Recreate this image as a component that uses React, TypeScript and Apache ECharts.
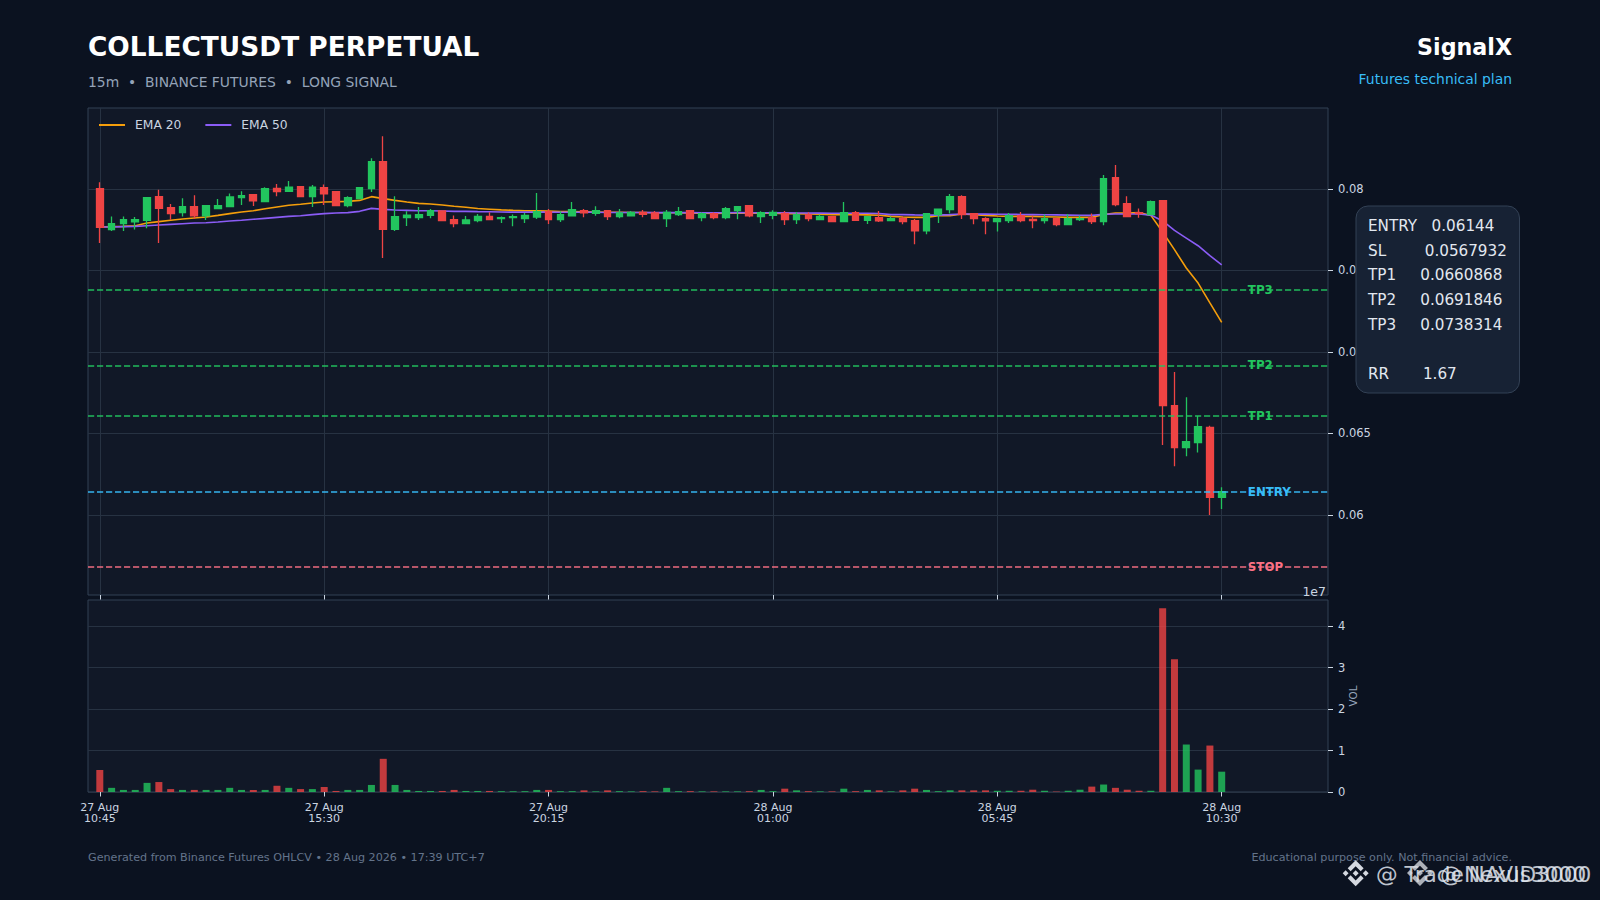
import React, { useEffect, useRef } from "react";
import * as echarts from "echarts";

// Time axis: one candle every 15 minutes, labels on every 19th candle
const tickIndexes = [0, 19, 38, 57, 76, 95];
const tickLabels = ["27 Aug\n10:45", "27 Aug\n15:30", "27 Aug\n20:15", "28 Aug\n01:00", "28 Aug\n05:45", "28 Aug\n10:30"];
const priceTicks = [0.06, 0.065, 0.07, 0.075, 0.08];
const volumeTicks = [0, 1, 2, 3, 4];

// [open, close, low, high]
const candles: number[][] = [
  [0.08002, 0.07765, 0.07669, 0.08041], [0.07751, 0.07787, 0.07742, 0.07832], [0.07787, 0.07812, 0.07742, 0.07832], [0.07798, 0.07812, 0.07751, 0.07828],
  [0.07808, 0.07947, 0.07759, 0.07949], [0.07953, 0.07881, 0.07669, 0.07996], [0.07885, 0.07849, 0.07812, 0.07908], [0.07855, 0.07892, 0.07832, 0.07943],
  [0.07892, 0.07836, 0.07816, 0.07961], [0.07836, 0.07898, 0.0781, 0.07898], [0.07879, 0.07898, 0.07877, 0.07939], [0.07892, 0.07951, 0.0789, 0.07973],
  [0.07947, 0.07959, 0.07902, 0.07986], [0.07965, 0.07928, 0.07896, 0.07965], [0.07922, 0.08002, 0.0792, 0.0801], [0.08004, 0.07984, 0.07955, 0.08031],
  [0.07986, 0.08012, 0.07984, 0.08049], [0.08014, 0.07953, 0.07951, 0.08016], [0.07953, 0.08012, 0.0789, 0.08025], [0.08008, 0.07971, 0.07902, 0.08027],
  [0.07984, 0.07898, 0.07896, 0.07984], [0.07898, 0.07947, 0.07888, 0.07955], [0.07941, 0.08008, 0.07939, 0.08012], [0.08002, 0.08168, 0.07982, 0.08188],
  [0.08168, 0.07753, 0.07577, 0.08323], [0.07753, 0.0783, 0.07742, 0.07955], [0.07824, 0.0784, 0.07773, 0.07863], [0.07824, 0.07843, 0.0781, 0.0789],
  [0.07838, 0.07867, 0.0782, 0.07877], [0.07865, 0.07806, 0.07804, 0.07867], [0.07812, 0.07787, 0.07765, 0.07838], [0.07787, 0.0781, 0.07785, 0.07834],
  [0.07806, 0.07832, 0.07796, 0.07847], [0.07832, 0.07812, 0.07808, 0.07857], [0.07818, 0.07824, 0.07791, 0.07832], [0.07824, 0.0783, 0.07771, 0.07843],
  [0.07818, 0.07838, 0.07791, 0.07853], [0.07828, 0.07861, 0.07816, 0.07975], [0.07861, 0.07812, 0.07785, 0.07877], [0.07812, 0.07843, 0.07798, 0.07863],
  [0.07836, 0.07873, 0.07836, 0.0792], [0.07867, 0.07853, 0.07826, 0.07877], [0.07851, 0.07867, 0.07836, 0.07894], [0.07867, 0.0783, 0.0781, 0.07867],
  [0.0783, 0.07853, 0.0782, 0.07877], [0.07836, 0.07857, 0.07834, 0.07865], [0.07857, 0.07845, 0.07826, 0.07871], [0.07853, 0.07818, 0.07816, 0.07865],
  [0.07818, 0.07857, 0.07767, 0.07871], [0.07843, 0.07861, 0.07834, 0.0789], [0.07867, 0.07818, 0.07816, 0.07869], [0.07824, 0.07849, 0.07802, 0.07857],
  [0.07849, 0.07824, 0.07814, 0.07857], [0.07824, 0.07879, 0.07814, 0.0789], [0.07867, 0.07892, 0.07814, 0.07894], [0.07898, 0.07836, 0.07826, 0.07898],
  [0.0783, 0.07855, 0.07791, 0.07863], [0.07838, 0.07857, 0.07814, 0.07869], [0.07851, 0.07812, 0.07779, 0.07865], [0.07812, 0.07843, 0.07785, 0.07859],
  [0.07843, 0.07818, 0.07802, 0.07857], [0.07812, 0.07832, 0.0781, 0.07843], [0.0783, 0.078, 0.07796, 0.0783], [0.078, 0.07855, 0.07798, 0.0792],
  [0.07855, 0.07808, 0.07806, 0.07865], [0.07808, 0.0783, 0.07785, 0.07832], [0.07824, 0.07804, 0.07798, 0.07865], [0.07806, 0.07818, 0.07804, 0.07832],
  [0.07818, 0.078, 0.07783, 0.07832], [0.07806, 0.07744, 0.07661, 0.07816], [0.07744, 0.07849, 0.07722, 0.07849], [0.07843, 0.07877, 0.07791, 0.07877],
  [0.07873, 0.07953, 0.07849, 0.07969], [0.07953, 0.07843, 0.07816, 0.07961], [0.07849, 0.07818, 0.07783, 0.07849], [0.07818, 0.07804, 0.07722, 0.07826],
  [0.078, 0.07818, 0.0774, 0.07818], [0.07806, 0.07836, 0.07791, 0.07853], [0.07836, 0.07806, 0.07796, 0.07859], [0.07814, 0.07806, 0.07759, 0.07838],
  [0.07806, 0.07818, 0.07789, 0.07843], [0.07818, 0.07781, 0.07771, 0.07824], [0.07781, 0.07818, 0.07779, 0.07847], [0.07812, 0.07818, 0.07804, 0.07838],
  [0.07824, 0.078, 0.07785, 0.07849], [0.078, 0.08063, 0.07777, 0.08086], [0.0807, 0.07904, 0.07894, 0.08147], [0.0791, 0.0783, 0.07828, 0.07955],
  [0.07855, 0.07849, 0.07824, 0.07881], [0.07843, 0.07922, 0.07841, 0.0793], [0.07928, 0.06671, 0.06429, 0.0793], [0.06671, 0.06413, 0.06299, 0.06877],
  [0.06413, 0.0645, 0.0636, 0.06722], [0.06444, 0.06542, 0.06384, 0.06607], [0.06538, 0.06108, 0.06, 0.06548], [0.06108, 0.06143, 0.06037, 0.0617],
];

const ema20 = [
  0.07767, 0.07769, 0.07771, 0.07775, 0.07791, 0.078, 0.07808, 0.07816, 0.07822, 0.07828, 0.07838, 0.07849, 0.07859, 0.07867, 0.07879, 0.0789,
  0.079, 0.07906, 0.07914, 0.0792, 0.07922, 0.07924, 0.0793, 0.07953, 0.07941, 0.0793, 0.0792, 0.07912, 0.07908, 0.07902, 0.07894, 0.07888,
  0.0788, 0.07876, 0.07872, 0.07869, 0.07867, 0.07866, 0.07864, 0.07862, 0.07861, 0.0786, 0.07859, 0.07857, 0.07857, 0.07856, 0.07856, 0.07854,
  0.07854, 0.07854, 0.07852, 0.07851, 0.0785, 0.07852, 0.07853, 0.07851, 0.07851, 0.07851, 0.07849, 0.07849, 0.07847, 0.07845, 0.07842, 0.07843,
  0.07842, 0.07841, 0.07839, 0.07832, 0.07828, 0.07826, 0.07826, 0.07836, 0.07836, 0.07847, 0.07843, 0.07838, 0.07834, 0.07832, 0.07832, 0.07832,
  0.0783, 0.07828, 0.07826, 0.07826, 0.07826, 0.07843, 0.07853, 0.07853, 0.07855, 0.07838, 0.07736, 0.07628, 0.07515, 0.07423, 0.07301, 0.07182,
];
const ema50 = [
  0.07767, 0.07767, 0.07769, 0.07771, 0.07775, 0.07779, 0.07783, 0.07787, 0.07791, 0.07793, 0.07798, 0.07804, 0.07808, 0.07814, 0.0782, 0.07826,
  0.07832, 0.07836, 0.07843, 0.07849, 0.07853, 0.07855, 0.07863, 0.07881, 0.07875, 0.07871, 0.07869, 0.07867, 0.07867, 0.07865, 0.07863, 0.07863,
  0.07861, 0.0786, 0.07859, 0.07858, 0.07858, 0.07858, 0.07858, 0.07857, 0.07857, 0.07857, 0.07857, 0.07856, 0.07856, 0.07856, 0.07856, 0.07855,
  0.07855, 0.07855, 0.07855, 0.07854, 0.07854, 0.07854, 0.07855, 0.07854, 0.07854, 0.07854, 0.07854, 0.07853, 0.07853, 0.07852, 0.07851, 0.07851,
  0.07851, 0.07851, 0.0785, 0.07843, 0.07843, 0.07841, 0.0784, 0.0784, 0.07843, 0.07847, 0.07847, 0.07846, 0.07845, 0.07845, 0.07844, 0.07843,
  0.07842, 0.07841, 0.0784, 0.07839, 0.07838, 0.07845, 0.07847, 0.07847, 0.07847, 0.0784, 0.07804, 0.07746, 0.07699, 0.07652, 0.07591, 0.07534,
];

// Volume, in units of 1e7
const volumes = [
  0.53, 0.1, 0.05, 0.05, 0.22, 0.24, 0.07, 0.05, 0.05, 0.05, 0.05, 0.1, 0.05, 0.05, 0.05, 0.15,
  0.1, 0.07, 0.07, 0.12, 0.025, 0.05, 0.05, 0.17, 0.8, 0.17, 0.05, 0.025, 0.025, 0.025, 0.05, 0.025,
  0.025, 0.025, 0.02, 0.02, 0.02, 0.05, 0.05, 0.02, 0.02, 0.04, 0.015, 0.04, 0.02, 0.015, 0.02, 0.015,
  0.1, 0.02, 0.02, 0.015, 0.015, 0.015, 0.015, 0.02, 0.05, 0.02, 0.08, 0.04, 0.02, 0.015, 0.015, 0.08,
  0.02, 0.05, 0.04, 0.015, 0.04, 0.08, 0.05, 0.02, 0.04, 0.04, 0.04, 0.04, 0.03, 0.03, 0.03, 0.055,
  0.03, 0.01, 0.03, 0.055, 0.13, 0.18, 0.1, 0.055, 0.03, 0.03, 4.43, 3.2, 1.145, 0.54, 1.12, 0.49,
];

const levelNames = ["TP3", "TP2", "TP1", "ENTRY", "STOP"];
const levelValues = [0.0738314, 0.0691846, 0.0660868, 0.06144, 0.0567932];
const levelColors = ["#22c55e", "#22c55e", "#22c55e", "#38bdf8", "#fb7185"];
const levelLabelColumn = 98;

const panelLines = [
  "ENTRY   0.06144",
  "SL        0.0567932",
  "TP1     0.0660868",
  "TP2     0.0691846",
  "TP3     0.0738314",
  "",
  "RR       1.67",
];

const UP = "#22c55e";
const DOWN = "#ef4444";
const BG = "#0b1220";
const PLOT = "#111827";
const GRID_LINE = "#273242";
const SPINE = "#334155";
const TICK = "#cbd5e1";
const FONT = "DejaVu Sans";

const BINANCE =
  "M38.73 53.2L63.3 28.63l24.59 24.58 14.3-14.3L63.3 0 24.43 38.9zM0 63.31l14.3-14.31 14.31 14.31-14.31 14.3zM38.73 73.41l24.57 24.57 24.59-24.58 14.3 14.29-38.88 38.91-38.88-38.88-.02-.02zM97.99 63.31l14.31-14.31 14.31 14.3-14.31 14.31zM77.83 63.3L63.3 48.76 52.56 59.5l-1.24 1.23-2.54 2.54 14.52 14.53 14.53-14.5z";
echarts.graphic.registerShape("logo", echarts.graphic.extendPath(BINANCE as any, {}) as any);

// One blank slot before the first candle and nine after the last give the axis its margins
const categories = Array.from({ length: 106 }, (_, i) => String(i - 1));
const isTick = (index: number) => tickIndexes.includes(index - 1);
const tickText = (_: string, index: number) => {
  const at = tickIndexes.indexOf(index - 1);
  return at >= 0 ? tickLabels[at] : "";
};

function text(x: number, y: number, content: string, size: number, fill: string, extra: any = {}) {
  return {
    type: "text",
    x,
    y,
    z: 200,
    style: { text: content, fontSize: size, fontFamily: FONT, fill, textVerticalAlign: "middle", ...extra },
  };
}

function buildOption() {
  const blank = ["-", "-", "-", "-"];
  return {
    animation: false,
    backgroundColor: BG,
    textStyle: { fontFamily: FONT },
    grid: [
      { left: 88, top: 108, width: 1240, height: 487, show: true, backgroundColor: PLOT, borderColor: SPINE, borderWidth: 1 },
      { left: 88, top: 600, width: 1240, height: 192, show: true, backgroundColor: PLOT, borderColor: SPINE, borderWidth: 1 },
    ],
    legend: {
      data: ["EMA 20", "EMA 50"],
      left: 98,
      top: 119,
      padding: 0,
      itemWidth: 26,
      itemHeight: 14,
      itemGap: 23,
      itemStyle: { color: "rgba(0,0,0,0)", borderColor: "rgba(0,0,0,0)", borderWidth: 0, opacity: 0 },
      textStyle: { color: TICK, fontSize: 12.3, fontFamily: FONT, padding: [0, 0, 0, 5] },
    },
    xAxis: [
      {
        type: "category",
        gridIndex: 0,
        data: categories,
        boundaryGap: false,
        axisLine: { show: false },
        axisTick: { show: true, interval: isTick, length: 4.5, lineStyle: { color: TICK } },
        axisLabel: { show: false },
        splitLine: { show: true, interval: isTick, lineStyle: { color: GRID_LINE, width: 1 } },
      },
      {
        type: "category",
        gridIndex: 1,
        data: categories,
        boundaryGap: false,
        axisLine: { show: false },
        axisTick: { show: true, interval: isTick, length: 4.5, lineStyle: { color: TICK } },
        axisLabel: { show: true, interval: isTick, formatter: tickText, color: TICK, fontSize: 11, margin: 9.5, lineHeight: 11, fontFamily: FONT },
        splitLine: { show: false },
      },
    ],
    yAxis: [
      {
        type: "value",
        gridIndex: 0,
        position: "right",
        min: 0.05509,
        max: 0.08497,
        axisLine: { show: false },
        axisTick: { show: true, length: 5, customValues: priceTicks, lineStyle: { color: TICK } },
        axisLabel: { show: true, customValues: priceTicks, formatter: (v: number) => String(v), color: TICK, fontSize: 11.5, margin: 10, padding: [2, 0, 0, 0], fontFamily: FONT },
        splitLine: { show: true, lineStyle: { color: GRID_LINE, width: 1 } },
      },
      {
        type: "value",
        gridIndex: 1,
        position: "right",
        min: 0,
        max: 4.63,
        name: "VOL",
        nameLocation: "middle",
        nameRotate: 90,
        nameGap: 19.5,
        nameMoveOverlap: false,
        nameTextStyle: { color: "#94a3b8", fontSize: 10.4, fontFamily: FONT },
        axisLine: { show: false },
        axisTick: { show: true, length: 5, customValues: volumeTicks, lineStyle: { color: TICK } },
        axisLabel: { show: true, customValues: volumeTicks, formatter: (v: number) => String(v), color: TICK, fontSize: 11.5, margin: 10, fontFamily: FONT },
        splitLine: { show: true, lineStyle: { color: GRID_LINE, width: 1 } },
      },
    ],
    series: [
      {
        name: "Levels",
        type: "line",
        xAxisIndex: 0,
        yAxisIndex: 0,
        data: [],
        z: 1,
        silent: true,
        markLine: {
          silent: true,
          symbol: "none",
          precision: 7,
          animation: false,
          label: { show: false },
          data: levelValues.map((v, i) => ({
            yAxis: v,
            lineStyle: { color: levelColors[i], type: [6.2, 2.8], width: 1.6, opacity: 0.95 },
          })),
        },
      },
      {
        name: "EMA 20",
        type: "line",
        xAxisIndex: 0,
        yAxisIndex: 0,
        data: ["-", ...ema20],
        symbol: "none",
        z: 2,
        lineStyle: { color: "#f59e0b", width: 1.6 },
        itemStyle: { color: "#f59e0b" },
      },
      {
        name: "EMA 50",
        type: "line",
        xAxisIndex: 0,
        yAxisIndex: 0,
        data: ["-", ...ema50],
        symbol: "none",
        z: 2,
        lineStyle: { color: "#8b5cf6", width: 1.6 },
        itemStyle: { color: "#8b5cf6" },
      },
      {
        name: "Candles",
        type: "candlestick",
        xAxisIndex: 0,
        yAxisIndex: 0,
        data: [blank, ...candles],
        barWidth: 7.2,
        z: 3,
        itemStyle: { color: UP, color0: DOWN, borderColor: UP, borderColor0: DOWN, borderWidth: 1.3 },
      },
      {
        name: "Level labels",
        type: "scatter",
        xAxisIndex: 0,
        yAxisIndex: 0,
        symbolSize: 1,
        z: 4,
        silent: true,
        itemStyle: { color: "rgba(0,0,0,0)", opacity: 1 },
        data: levelValues.map((v, i) => ({
          value: [levelLabelColumn, v],
          label: {
            show: true,
            position: "right",
            distance: 2,
            formatter: levelNames[i],
            color: levelColors[i],
            fontSize: 11.8,
            fontWeight: "bold",
            fontFamily: FONT,
          },
        })),
      },
      {
        name: "Volume",
        type: "bar",
        xAxisIndex: 1,
        yAxisIndex: 1,
        barWidth: 7,
        data: ["-", ...volumes.map((v, i) => ({
          value: v,
          itemStyle: { color: candles[i][1] >= candles[i][0] ? "rgba(34,197,94,0.8)" : "rgba(239,68,68,0.8)" },
        }))],
      },
    ],
    graphic: [
      text(88, 46, "COLLECTUSDT PERPETUAL", 26.4, "#ffffff", { fontWeight: "bold" }),
      text(88, 81.5, "15m  •  BINANCE FUTURES  •  LONG SIGNAL", 13.9, "#94a3b8"),
      text(1512, 47, "SignalX", 22.2, "#ffffff", { fontWeight: "bold", textAlign: "right" }),
      text(1512, 78.5, "Futures technical plan", 13.9, "#38bdf8", { textAlign: "right" }),
      text(1326, 591, "1e7", 12.5, TICK, { textAlign: "right" }),
      text(88, 857, "Generated from Binance Futures OHLCV • 28 Aug 2026 • 17:39 UTC+7", 11.15, "#64748b"),
      text(1512, 857, "Educational purpose only. Not financial advice.", 11.15, "#64748b", { textAlign: "right" }),
      {
        type: "rect",
        z: 190,
        shape: { x: 1356, y: 206, width: 163.5, height: 187, r: 12 },
        style: { fill: "#172234", stroke: SPINE, lineWidth: 1 },
      },
      {
        type: "text",
        x: 1368,
        y: 213.5,
        z: 200,
        style: {
          text: panelLines.join("\n"),
          fontSize: 15.2,
          fontFamily: FONT,
          fill: "#e2e8f0",
          lineHeight: 24.7,
          textVerticalAlign: "top",
        },
      },
      { type: "logo", x: 1342.7, y: 860.3, scaleX: 0.205, scaleY: 0.205, z: 200, style: { fill: "#d5d9e0" } },
      text(1376, 874, "@ TradeNexus3000", 21.7, "rgba(226,232,240,0.85)"),
      { type: "logo", x: 1407, y: 860, scaleX: 0.205, scaleY: 0.205, z: 200, style: { fill: "rgba(213,217,224,0.8)" } },
      text(1440, 874, "@ NAVID3000", 21.7, "rgba(226,232,240,0.85)"),
    ],
  };
}

export default function App() {
  const ref = useRef<HTMLDivElement>(null);
  useEffect(() => {
    document.body.style.margin = "0";
    document.body.style.background = BG;
    const chart = echarts.init(ref.current!, undefined, { renderer: "svg" });
    chart.setOption(buildOption() as any);
    return () => chart.dispose();
  }, []);
  return <div ref={ref} style={{ width: 1600, height: 900 }} />;
}
